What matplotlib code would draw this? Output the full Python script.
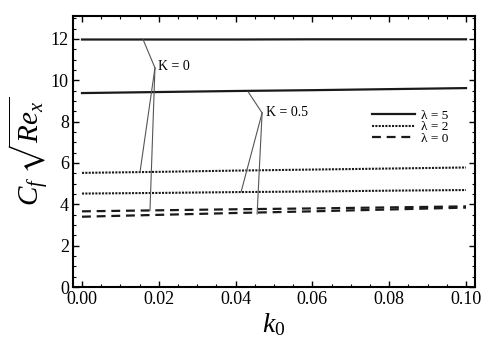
import matplotlib
matplotlib.use("Agg")
import matplotlib.pyplot as plt
from matplotlib.lines import Line2D
from matplotlib.ticker import MultipleLocator, FormatStrFormatter

plt.rcParams['font.family'] = ['Liberation Serif', 'DejaVu Serif']
plt.rcParams['mathtext.fontset'] = 'custom'
plt.rcParams['mathtext.rm'] = 'Liberation Serif'
plt.rcParams['mathtext.it'] = 'Liberation Serif:italic'
plt.rcParams['mathtext.fallback'] = 'stix'

# data
k0 = [0.0, 0.02, 0.04, 0.06, 0.08, 0.10]
cf_K0_l5 = [11.97, 11.97, 11.97, 11.98, 11.98, 11.98]
cf_K05_l5 = [9.38, 9.43, 9.48, 9.52, 9.57, 9.62]
cf_K0_l2 = [5.52, 5.57, 5.63, 5.68, 5.73, 5.78]
cf_K05_l2 = [4.52, 4.55, 4.59, 4.62, 4.66, 4.69]
cf_K0_l0 = [3.66, 3.71, 3.76, 3.80, 3.85, 3.90]
cf_K05_l0 = [3.40, 3.49, 3.58, 3.66, 3.75, 3.84]

lam_labels = ['λ = 5', 'λ = 2', 'λ = 0']

fig = plt.figure(figsize=(4.95, 3.51), dpi=100)
ax = fig.add_axes([0.1475, 0.1823, 0.8121, 0.7717])

solid = dict(color='#1a1a1a', lw=1.6, linestyle='-')
dotted = dict(color='#1a1a1a', lw=1.5, linestyle=(0, (1.0, 0.6)))
dashed = dict(color='#1a1a1a', lw=1.6, linestyle=(0, (4.0, 2.6)))

ax.plot(k0, cf_K0_l5, **solid)
ax.plot(k0, cf_K05_l5, **solid)
ax.plot(k0, cf_K0_l2, **dotted)
ax.plot(k0, cf_K05_l2, **dotted)
ax.plot(k0, cf_K0_l0, **dashed)
ax.plot(k0, cf_K05_l0, **dashed)

# leader lines to the K labels
lead = dict(arrowstyle='-', color='#555555', lw=0.8, shrinkA=0, shrinkB=0)
for tgt in [(0.0159, 11.97), (0.0151, 5.55), (0.0177, 3.69)]:
    ax.annotate('', xy=tgt, xytext=(0.0190, 10.6), arrowprops=lead)
ax.text(0.0197, 10.65, 'K = 0', fontsize=10, va='center', ha='left')

for tgt in [(0.0432, 9.46), (0.0414, 4.58), (0.0456, 3.52)]:
    ax.annotate('', xy=tgt, xytext=(0.0469, 8.42), arrowprops=lead)
ax.text(0.0478, 8.42, 'K = 0.5', fontsize=10, va='center', ha='left')

handles = [Line2D([], [], **solid), Line2D([], [], **dotted), Line2D([], [], **dashed)]
ax.legend(handles, lam_labels, loc='upper left', bbox_to_anchor=(0.745, 0.655),
          frameon=False, fontsize=9.5, handlelength=3.2, handletextpad=0.5,
          labelspacing=-0.05, borderpad=0, borderaxespad=0)

ax.set_xlim(-0.00234, 0.10234)
ax.set_ylim(0, 13.1)
ax.xaxis.set_major_locator(MultipleLocator(0.02))
ax.xaxis.set_minor_locator(MultipleLocator(0.005))
ax.yaxis.set_major_locator(MultipleLocator(2))
ax.yaxis.set_minor_locator(MultipleLocator(0.5))
ax.xaxis.set_major_formatter(FormatStrFormatter('%.2f'))
ax.tick_params(which='both', direction='in', top=True, right=True, labelsize=13, pad=3)
ax.tick_params(which='major', length=4, width=1)
ax.tick_params(which='minor', length=2, width=0.8)
for s in ax.spines.values():
    s.set_linewidth(1.5)

ax.set_xlabel(r'$k_{\mathit{0}}$', fontsize=20, labelpad=2)
ax.set_ylabel(r'$C_f\ \sqrt{Re_x}$', fontsize=21, labelpad=0)

fig.savefig('out.png', dpi=100)
